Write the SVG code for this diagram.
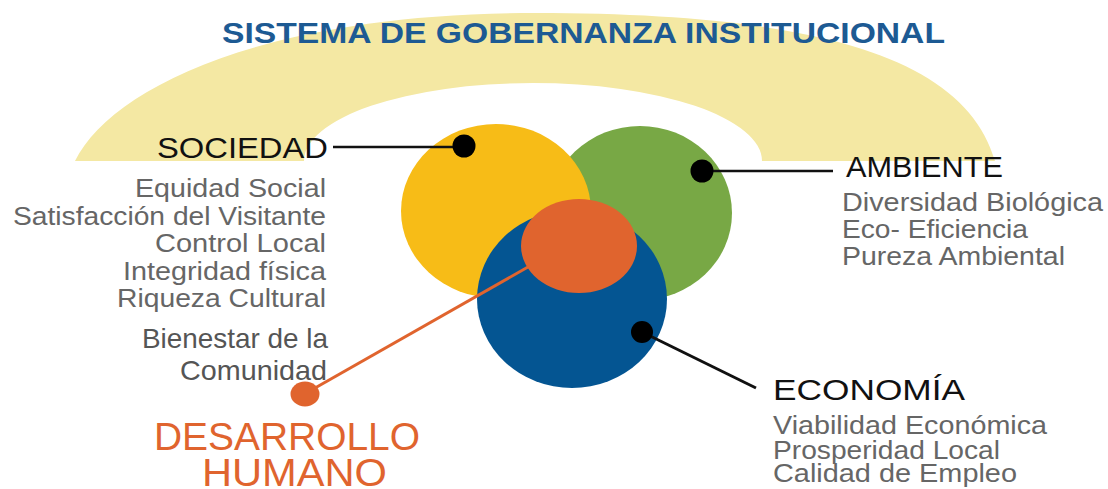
<svg xmlns="http://www.w3.org/2000/svg" width="1108" height="489" viewBox="0 0 1108 489">
<style>
  .title { font-family: "Liberation Sans", Arial, sans-serif; font-weight: bold; font-size: 30px; fill: #1D5A93; }
  .head { font-family: "Liberation Sans", Arial, sans-serif; font-size: 29px; fill: #111111; }
  .item { font-family: "Liberation Sans", Arial, sans-serif; font-size: 25px; fill: #666666; }
  .item2 { font-family: "Liberation Sans", Arial, sans-serif; font-size: 28px; fill: #555555; }
  .dh { font-family: "Liberation Sans", Arial, sans-serif; font-size: 38px; fill: #E0642E; }
  .link { stroke: #111111; stroke-width: 2.5; fill: none; }
  .olink { stroke: #E0642E; stroke-width: 3; fill: none; }
  .dot { fill: #000000; }
</style>
<rect width="1108" height="489" fill="#FFFFFF"/>
<g id="gobernanza">
  <path d="M 75 161 C 110 90, 260 13, 535 13 C 810 13, 965 55, 995 161 L 762 161 A 229 78 0 0 0 304 161 Z" fill="#F4E8A3"/>
  <text class="title" x="222" y="43" textLength="723" lengthAdjust="spacingAndGlyphs">SISTEMA DE GOBERNANZA INSTITUCIONAL</text>
</g>
<g id="ambiente">
  <ellipse cx="640" cy="213" rx="92" ry="87" fill="#78A845"/>
  <text class="head" x="846" y="177" textLength="157" lengthAdjust="spacingAndGlyphs">AMBIENTE</text>
  <text class="item" x="842" y="211" textLength="261" lengthAdjust="spacingAndGlyphs">Diversidad Biológica</text>
  <text class="item" x="842" y="238" textLength="186" lengthAdjust="spacingAndGlyphs">Eco- Eficiencia</text>
  <text class="item" x="842" y="265" textLength="223" lengthAdjust="spacingAndGlyphs">Pureza Ambiental</text>
</g>
<g id="sociedad">
  <ellipse cx="496" cy="211" rx="95" ry="87" fill="#F7BC17"/>
  <text class="head" x="157" y="158" textLength="171" lengthAdjust="spacingAndGlyphs">SOCIEDAD</text>
  <text class="item" x="135" y="197" textLength="191" lengthAdjust="spacingAndGlyphs">Equidad Social</text>
  <text class="item" x="13" y="225" textLength="313" lengthAdjust="spacingAndGlyphs">Satisfacción del Visitante</text>
  <text class="item" x="155" y="252" textLength="171" lengthAdjust="spacingAndGlyphs">Control Local</text>
  <text class="item" x="123" y="280" textLength="203" lengthAdjust="spacingAndGlyphs">Integridad física</text>
  <text class="item" x="117" y="307" textLength="209" lengthAdjust="spacingAndGlyphs">Riqueza Cultural</text>
</g>
<g id="economia">
  <ellipse cx="572" cy="299" rx="95" ry="89" fill="#045592"/>
  <text class="head" x="773" y="400" textLength="192" lengthAdjust="spacingAndGlyphs">ECONOMÍA</text>
  <text class="item" x="773" y="434" textLength="274" lengthAdjust="spacingAndGlyphs">Viabilidad Económica</text>
  <text class="item" x="773" y="459" textLength="227" lengthAdjust="spacingAndGlyphs">Prosperidad Local</text>
  <text class="item" x="773" y="482" textLength="244" lengthAdjust="spacingAndGlyphs">Calidad de Empleo</text>
</g>
<g id="desarrollo">
  <ellipse cx="579" cy="246" rx="58" ry="47" fill="#E0642E"/>
  <text class="item2" x="142" y="348" textLength="186" lengthAdjust="spacingAndGlyphs">Bienestar de la</text>
  <text class="item2" x="180" y="380" textLength="147" lengthAdjust="spacingAndGlyphs">Comunidad</text>
  <text class="dh" x="154" y="450" textLength="266" lengthAdjust="spacingAndGlyphs">DESARROLLO</text>
  <text class="dh" x="202" y="486" textLength="185" lengthAdjust="spacingAndGlyphs">HUMANO</text>
</g>
<g id="connectors">
  <line class="link" x1="333" y1="147" x2="464" y2="147"/>
  <circle class="dot" cx="464" cy="146" r="11.5"/>
  <line class="link" x1="702" y1="171" x2="833" y2="171"/>
  <circle class="dot" cx="702" cy="171" r="11.5"/>
  <line class="link" x1="642" y1="332" x2="756" y2="388" style="stroke-width:3"/>
  <circle class="dot" cx="642" cy="332" r="11"/>
  <line class="olink" x1="528" y1="267" x2="308" y2="392"/>
  <ellipse cx="305" cy="394" rx="14.5" ry="12.5" fill="#E0642E"/>
</g>
</svg>
